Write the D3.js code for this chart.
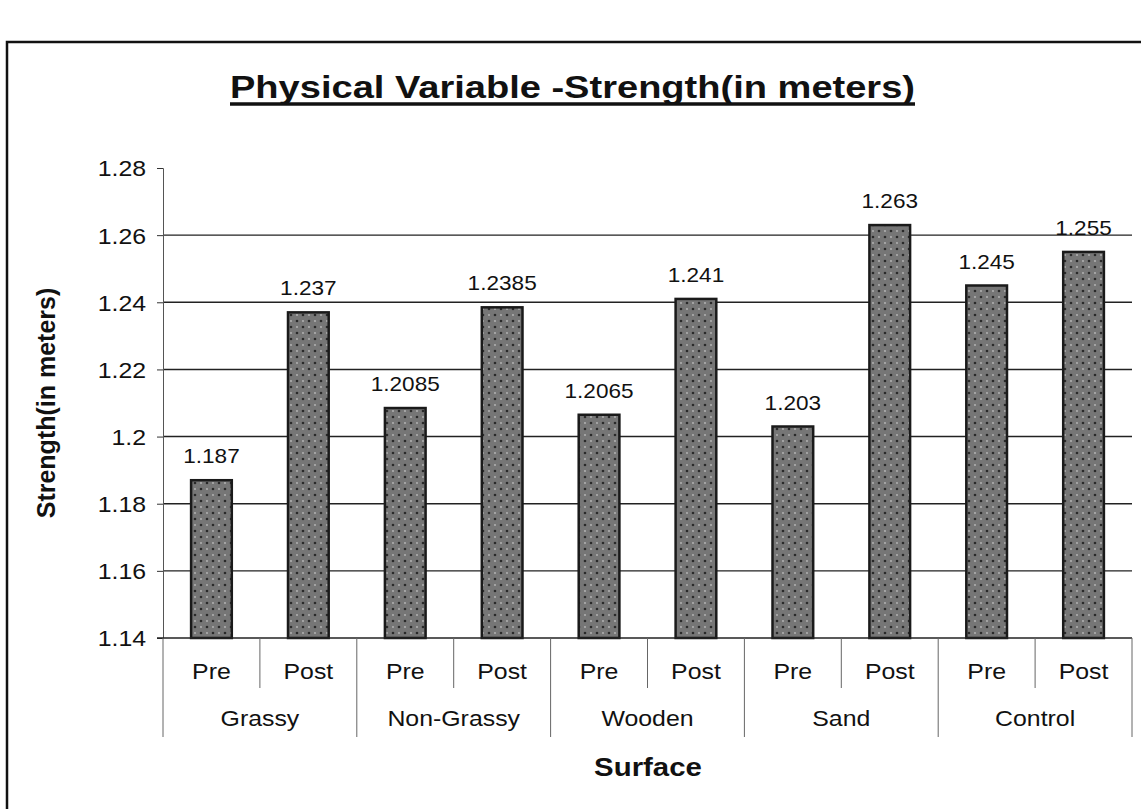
<!DOCTYPE html>
<html>
<head>
<meta charset="utf-8">
<script src="https://cdn.jsdelivr.net/npm/d3@7"></script>
<style>
  html, body { margin: 0; padding: 0; background: #fff; }
  svg { display: block; font-family: "Liberation Sans", Arial, sans-serif; }
</style>
</head>
<body>
<svg width="1141" height="809"></svg>
<script>
// Data
const groups = ["Grassy", "Non-Grassy", "Wooden", "Sand", "Control"];
const phases = ["Pre", "Post"];
const preValues = [1.187, 1.2085, 1.2065, 1.203, 1.245];
const postValues = [1.237, 1.2385, 1.241, 1.263, 1.255];
const valueLabels = ["1.187", "1.237", "1.2085", "1.2385", "1.2065", "1.241", "1.203", "1.263", "1.245", "1.255"];
const yTicks = [1.14, 1.16, 1.18, 1.2, 1.22, 1.24, 1.26, 1.28];
const yTickLabels = ["1.14", "1.16", "1.18", "1.2", "1.22", "1.24", "1.26", "1.28"];
const gridValues = [1.16, 1.18, 1.2, 1.22, 1.24, 1.26];

const data = [];
groups.forEach((g, i) => {
  phases.forEach(p => {
    data.push({ group: g, phase: p, value: p === "Pre" ? preValues[i] : postValues[i] });
  });
});
data.forEach((d, i) => { d.key = d.group + "|" + d.phase; d.label = valueLabels[i]; });

const svg = d3.select("svg");
const ink = "#111";
const SX = 1.13; // the scan is a bit wider than tall

// place text at (x,y) and stretch it sideways like the scan
function stretch(sel, x, y) {
  return sel.attr("x", 0).attr("y", 0)
    .attr("transform", (d, i) => {
      const px = typeof x === "function" ? x(d, i) : x;
      const py = typeof y === "function" ? y(d, i) : y;
      return `translate(${px},${py}) scale(${SX},1)`;
    });
}

// frame of the pasted chart (right and bottom run off the scan)
svg.append("rect")
  .attr("x", 7).attr("y", 42)
  .attr("width", 1160).attr("height", 800)
  .attr("fill", "none").attr("stroke", "#111").attr("stroke-width", 2.5);

const plot = { left: 163, right: 1132, top: 168, bottom: 638 };

const x = d3.scaleBand()
  .domain(data.map(d => d.key))
  .range([plot.left, plot.right])
  .paddingInner(0.58)
  .paddingOuter(0.29);

const y = d3.scaleLinear()
  .domain([1.14, 1.28])
  .range([plot.bottom, plot.top]);

// dotted fill like the scanned bars
const defs = svg.append("defs");
const pat = defs.append("pattern")
  .attr("id", "dots")
  .attr("width", 12).attr("height", 12)
  .attr("patternUnits", "userSpaceOnUse");
pat.append("rect").attr("width", 12).attr("height", 12).attr("fill", "#767676");
pat.append("circle").attr("cx", 3).attr("cy", 3).attr("r", 1.3).attr("fill", "#2a2a2a");
pat.append("circle").attr("cx", 9).attr("cy", 9).attr("r", 1.3).attr("fill", "#2a2a2a");
pat.append("circle").attr("cx", 9).attr("cy", 3).attr("r", 0.9).attr("fill", "#b8b8b8");
pat.append("circle").attr("cx", 3).attr("cy", 9).attr("r", 0.9).attr("fill", "#b8b8b8");

// Gridlines (none at the top tick)
svg.append("g")
  .selectAll("line")
  .data(gridValues)
  .join("line")
  .attr("x1", plot.left).attr("x2", plot.right)
  .attr("y1", d => y(d)).attr("y2", d => y(d))
  .attr("stroke", "#222").attr("stroke-width", 1.4);

// Y axis
const yAxis = svg.append("g")
  .attr("transform", `translate(${plot.left},0)`)
  .call(d3.axisLeft(y).tickValues(yTicks).tickSize(6).tickFormat((d, i) => yTickLabels[i]));
yAxis.select(".domain").attr("stroke", "#555").attr("stroke-width", 1);
yAxis.selectAll(".tick line").attr("stroke", "#333");
yAxis.selectAll(".tick text")
  .attr("font-size", 22).attr("fill", ink)
  .attr("font-family", "Liberation Sans, Arial, sans-serif")
  .attr("x", -15).attr("dy", "0.36em")
  .attr("transform", `scale(${SX},1)`);

// Bars
svg.append("g")
  .selectAll("rect")
  .data(data)
  .join("rect")
  .attr("x", d => x(d.key))
  .attr("y", d => y(d.value))
  .attr("width", x.bandwidth())
  .attr("height", d => y(1.14) - y(d.value))
  .attr("fill", "url(#dots)")
  .attr("stroke", "#1a1a1a").attr("stroke-width", 2.5);

// Value labels
svg.append("g")
  .selectAll("text")
  .data(data)
  .join("text")
  .call(stretch, d => x(d.key) + x.bandwidth() / 2, d => y(d.value) - 17)
  .attr("text-anchor", "middle")
  .attr("font-size", 20).attr("fill", ink)
  .text(d => d.label);

// Two-level category axis
const step = x.step();
const axisG = svg.append("g");
axisG.append("line")
  .attr("x1", plot.left - 6).attr("x2", plot.right)
  .attr("y1", plot.bottom).attr("y2", plot.bottom)
  .attr("stroke", "#222").attr("stroke-width", 1.6);

axisG.selectAll("line.sep")
  .data(d3.range(data.length + 1))
  .join("line")
  .attr("class", "sep")
  .attr("x1", i => plot.left + i * step).attr("x2", i => plot.left + i * step)
  .attr("y1", plot.bottom)
  .attr("y2", i => i % 2 === 0 ? 737 : 688)
  .attr("stroke", "#666").attr("stroke-width", 1);

axisG.selectAll("text.phase")
  .data(data)
  .join("text")
  .attr("class", "phase")
  .call(stretch, d => x(d.key) + x.bandwidth() / 2, 679)
  .attr("text-anchor", "middle")
  .attr("font-size", 22).attr("fill", ink)
  .text(d => d.phase);

axisG.selectAll("text.group")
  .data(groups)
  .join("text")
  .attr("class", "group")
  .call(stretch, (g, i) => plot.left + (i * 2 + 1) * step, 726)
  .attr("text-anchor", "middle")
  .attr("font-size", 22).attr("fill", ink)
  .text(g => g);

// Axis titles
svg.append("text")
  .call(stretch, 648, 776)
  .attr("text-anchor", "middle")
  .attr("font-size", 26).attr("font-weight", "bold").attr("fill", ink)
  .text("Surface");

svg.append("text")
  .attr("transform", `translate(55,${(plot.top + plot.bottom) / 2}) rotate(-90)`)
  .attr("text-anchor", "middle")
  .attr("font-size", 25).attr("font-weight", "bold").attr("fill", ink)
  .text("Strength(in meters)");

// Title with a heavy underline as in the scan
const titleLeft = 230, titleRight = 915;
svg.append("text")
  .attr("x", titleLeft)
  .attr("y", 98)
  .attr("font-size", 32).attr("font-weight", "bold").attr("fill", ink)
  .attr("textLength", titleRight - titleLeft)
  .attr("lengthAdjust", "spacingAndGlyphs")
  .text("Physical Variable -Strength(in meters)");
svg.append("line")
  .attr("x1", titleLeft).attr("x2", titleRight)
  .attr("y1", 104).attr("y2", 104)
  .attr("stroke", ink).attr("stroke-width", 3.5);
</script>
</body>
</html>
